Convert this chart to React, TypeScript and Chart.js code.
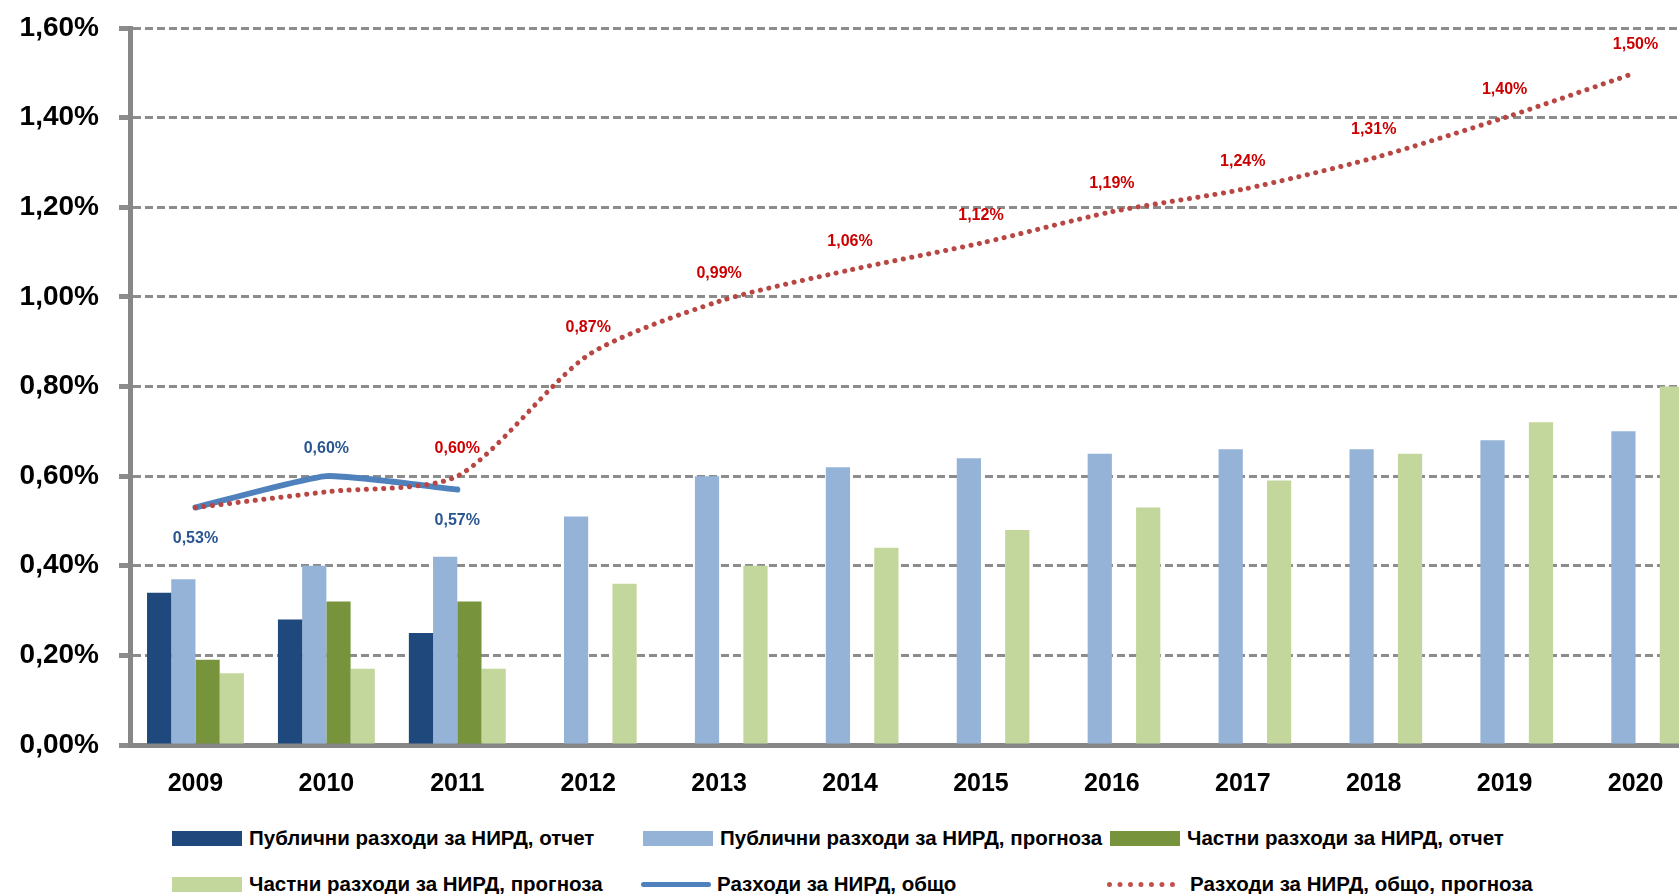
import React, { useEffect, useRef } from "react";
import { Chart, registerables } from "chart.js";
Chart.register(...registerables);

const years = ["2009", "2010", "2011", "2012", "2013", "2014", "2015", "2016", "2017", "2018", "2019", "2020"];
const publicReport = [0.34, 0.28, 0.25, null, null, null, null, null, null, null, null, null];
const publicForecast = [0.37, 0.40, 0.42, 0.51, 0.60, 0.62, 0.64, 0.65, 0.66, 0.66, 0.68, 0.70];
const privateReport = [0.19, 0.32, 0.32, null, null, null, null, null, null, null, null, null];
const privateForecast = [0.16, 0.17, 0.17, 0.36, 0.40, 0.44, 0.48, 0.53, 0.59, 0.65, 0.72, 0.80];
const totalReport = [0.53, 0.60, 0.57, null, null, null, null, null, null, null, null, null];
const totalForecast = [0.53, 0.565, 0.60, 0.87, 0.99, 1.06, 1.12, 1.19, 1.24, 1.31, 1.40, 1.50];
const totalReportLabelSide = ["below", "above", "below"];
const totalForecastLabelShown = [false, false, true, true, true, true, true, true, true, true, true, true];
const yTicks = { min: 0, max: 1.6, step: 0.2 };

const seriesNames = [
  "Публични разходи за НИРД, отчет",
  "Публични разходи за НИРД, прогноза",
  "Частни разходи за НИРД, отчет",
  "Частни разходи за НИРД, прогноза",
  "Разходи за НИРД, общо",
  "Разходи за НИРД, общо, прогноза",
];

const C_DARK_BLUE = "#1F497D";
const C_LIGHT_BLUE = "#95B3D7";
const C_GREEN = "#77933C";
const C_LIGHT_GREEN = "#C3D69B";
const C_LINE_BLUE = "#4F81BD";
const C_LINE_RED = "#C0504D";
const GRID = "#8C8C8C";
const FONT = "'Liberation Sans', Arial, sans-serif";

const fmt = (v: number) => v.toFixed(2).replace(".", ",") + "%";

const labelPlugin = {
  id: "dataLabels",
  afterDatasetsDraw(chart: any) {
    const ctx = chart.ctx;
    ctx.save();
    ctx.font = `bold 16px ${FONT}`;
    ctx.textAlign = "center";
    ctx.textBaseline = "middle";
    const blueMeta = chart.getDatasetMeta(4);
    blueMeta.data.forEach((pt: any, i: number) => {
      const v = totalReport[i];
      if (v == null) return;
      const side = totalReportLabelSide[i];
      ctx.fillStyle = "#2A5690";
      ctx.fillText(fmt(v), pt.x, pt.y + (side === "below" ? 31 : -28));
    });
    const redMeta = chart.getDatasetMeta(5);
    redMeta.data.forEach((pt: any, i: number) => {
      const v = totalForecast[i];
      if (v == null || !totalForecastLabelShown[i]) return;
      ctx.fillStyle = "#CC0000";
      ctx.fillText(fmt(v), pt.x, pt.y - 28);
    });
    ctx.restore();
  },
};

export default function App() {
  const ref = useRef<HTMLCanvasElement>(null);
  useEffect(() => {
    if (!ref.current) return;
    const chart = new Chart(ref.current, {
      type: "bar",
      data: {
        labels: years,
        datasets: [
          { label: seriesNames[0], data: publicReport, backgroundColor: C_DARK_BLUE, categoryPercentage: 0.74, barPercentage: 1 } as any,
          { label: seriesNames[1], data: publicForecast, backgroundColor: C_LIGHT_BLUE, categoryPercentage: 0.74, barPercentage: 1 },
          { label: seriesNames[2], data: privateReport, backgroundColor: C_GREEN, categoryPercentage: 0.74, barPercentage: 1 },
          { label: seriesNames[3], data: privateForecast, backgroundColor: C_LIGHT_GREEN, categoryPercentage: 0.74, barPercentage: 1 },
          {
            type: "line", label: seriesNames[4], data: totalReport, borderColor: C_LINE_BLUE, borderWidth: 6,
            pointRadius: 0, tension: 0.15, order: -1, spanGaps: false, borderCapStyle: "round",
          },
          {
            type: "line", label: seriesNames[5], data: totalForecast, borderColor: "#B84744", borderWidth: 5,
            borderDash: [0.1, 8.5], borderCapStyle: "round", pointRadius: 0, tension: 0.25, order: -2,
          },
        ],
      },
      options: {
        responsive: false,
        animation: false,
        devicePixelRatio: 1,
        layout: { padding: { top: 28, right: 1, left: 0, bottom: 0 } },
        plugins: { legend: { display: false }, tooltip: { enabled: false } },
        scales: {
          x: {
            grid: { display: false, drawTicks: false },
            border: { display: true, color: "#878787", width: 5 },
            ticks: { font: { family: FONT, size: 25, weight: "bold" }, color: "#000", padding: 24, maxRotation: 0 },
            afterFit: (s: any) => { s.height = 65; s.paddingLeft = 0; s.paddingRight = 0; },
          },
          y: {
            min: yTicks.min,
            max: yTicks.max,
            ticks: {
              stepSize: yTicks.step,
              font: { family: FONT, size: 28, weight: "bold" },
              color: "#000",
              padding: 20,
              callback: (v: any) => fmt(Number(v)),
            },
            grid: {
              color: GRID, lineWidth: 3, tickColor: GRID, tickWidth: 5, tickLength: 11,
              tickBorderDash: [],
            } as any,
            border: { display: true, color: "#878787", width: 5, dash: [8, 4] } as any,
            afterFit: (s: any) => { s.width = 130; s.paddingTop = 0; s.paddingBottom = 0; },
          },
        },
      } as any,
      plugins: [labelPlugin],
    });
    return () => chart.destroy();
  }, []);

  const textStyle = (left: number, cy: number): React.CSSProperties => ({
    position: "absolute", left, top: cy - 12, height: 24, lineHeight: "24px",
    font: `bold 20.5px ${FONT}`, color: "#000", whiteSpace: "nowrap",
  });
  const box = (left: number, cy: number, color: string): React.CSSProperties => ({
    position: "absolute", left, top: cy - 7.5, width: 70, height: 15, background: color,
  });

  return (
    <div style={{ position: "fixed", left: 0, top: 0, width: 1679, height: 894, overflow: "hidden", background: "#fff" }}>
      <canvas ref={ref} width={1702} height={810} style={{ position: "absolute", left: 0, top: 0, width: 1702, height: 810 }} />
      <div style={box(172, 838, C_DARK_BLUE)} />
      <div style={textStyle(249, 838)}>{seriesNames[0]}</div>
      <div style={box(643, 838, C_LIGHT_BLUE)} />
      <div style={textStyle(720, 838)}>{seriesNames[1]}</div>
      <div style={box(1110, 838, C_GREEN)} />
      <div style={textStyle(1187, 838)}>{seriesNames[2]}</div>
      <div style={box(172, 884, C_LIGHT_GREEN)} />
      <div style={textStyle(249, 884)}>{seriesNames[3]}</div>
      <div style={{ position: "absolute", left: 641, top: 881.5, width: 70, height: 5, borderRadius: 3, background: C_LINE_BLUE }} />
      <div style={textStyle(717, 884)}>{seriesNames[4]}</div>
      <div style={{ position: "absolute", left: 1107, top: 881.5, width: 68, height: 0, borderTop: `5px dotted ${C_LINE_RED}` }} />
      <div style={textStyle(1190, 884)}>{seriesNames[5]}</div>
    </div>
  );
}
